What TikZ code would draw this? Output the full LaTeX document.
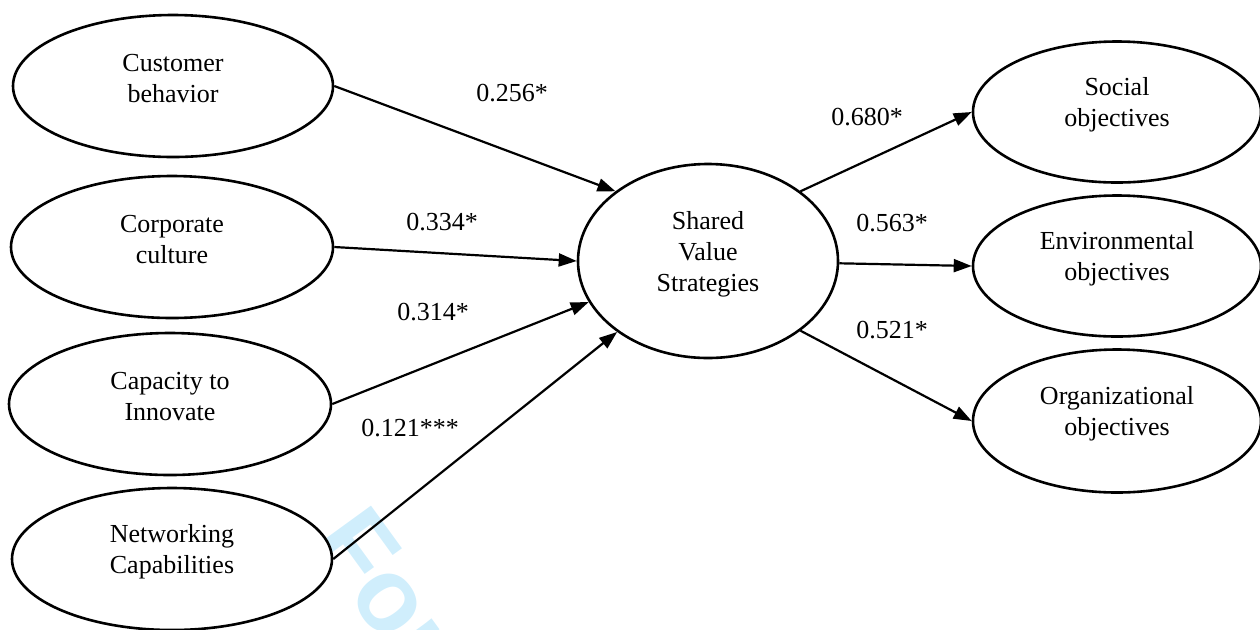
\documentclass[tikz,border=0pt]{standalone}
\usepackage{fontspec}
\setmainfont{Liberation Serif}
\newfontfamily\wmfont{Liberation Sans}
\usetikzlibrary{arrows.meta,shapes.geometric}
\definecolor{wmblue}{RGB}{208,238,252}
\begin{document}
\begin{tikzpicture}[x=0.5pt,y=-0.5pt,
  every node/.style={font=\fontsize{13}{15.5}\selectfont},
  construct/.style={draw, fill=white, ellipse, line width=1.3pt, inner sep=0pt,
    minimum width=160pt, minimum height=71pt},
  inside/.style={align=center, yshift=3.5pt},
  link/.style={line width=1.1pt, -{Triangle[length=9pt,width=6.5pt]}},
  coef/.style={inner sep=0pt}]
\clip (0,0) rectangle (1260,629);

% watermark, lying under the diagram
\node[font=\wmfont\bfseries\fontsize{52}{52}\selectfont, text=wmblue, rotate=-54,
  anchor=base west, inner sep=0pt] (wm) at (309,542) {For};

% exogenous constructs
\node[construct, label={[inside]center:{Customer\\behavior}}] (cb) at (173,86) {};
\node[construct, minimum width=161pt, label={[inside]center:{Corporate\\culture}}] (cc) at (172,247) {};
\node[construct, minimum width=161pt, label={[inside]center:{Capacity to\\Innovate}}] (ci) at (170,404) {};
\node[construct, label={[inside]center:{Networking\\Capabilities}}] (nc) at (172,559) {};

% mediating construct
\node[construct, minimum width=130pt, minimum height=97pt,
  label={[inside]center:{Shared\\Value\\Strategies}}] (svs) at (708,261) {};

% outcome constructs
\node[construct, minimum width=144pt, minimum height=70.5pt,
  label={[inside]center:{Social\\objectives}}] (so) at (1117,112) {};
\node[construct, minimum width=144pt, minimum height=70.5pt,
  label={[inside]center:{Environmental\\objectives}}] (eo) at (1117,266) {};
\node[construct, minimum width=144pt, minimum height=71.5pt,
  label={[inside]center:{Organizational\\objectives}}] (oo) at (1117,421) {};

% paths
\draw[link] (cb.east) -- (svs.143);
\draw[link] (cc.east) -- (svs.west);
\draw[link] (ci.east) -- (svs.199);
\draw[link] (nc.east) -- (svs.218);
\draw[link] (svs.37) -- (so.west);
\draw[link] (svs.-1) -- (eo.west);
\draw[link] (svs.-37) -- (oo.west);

% path coefficients
\node[coef] (k1) at (512,93) {0.256*};
\node[coef] (k2) at (442,222) {0.334*};
\node[coef] (k3) at (433,312) {0.314*};
\node[coef] (k4) at (410,428) {0.121***};
\node[coef] (k5) at (867,117) {0.680*};
\node[coef] (k6) at (892,223) {0.563*};
\node[coef] (k7) at (892,330) {0.521*};
\end{tikzpicture}
\end{document}
